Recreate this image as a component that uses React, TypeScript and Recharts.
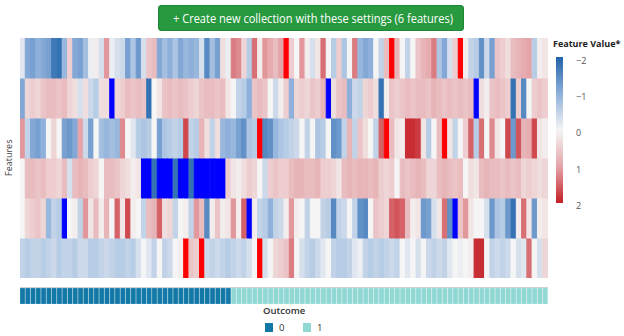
import { BarChart, Bar, Cell, XAxis, YAxis } from "recharts";

// one entry per sample (column), 100 samples
const outcome: number[] = [
  ...Array(40).fill(0),
  ...Array(60).fill(1),
];

// feature values per row, top row first
const feature1 = [
  -0.2, -1.1, -1.2, -1.0, -1.1, -1.2, -1.7, -1.8, -0.9, 0.5,
  -1.1, -1.2, -0.8, -0.1, 0.1, -0.3, 1.1, -0.1, -0.3, -0.4,
  -1.2, -0.7, -1.3, -0.3, 0.6, 0.7, -1.1, -0.8, -1.0, -0.7,
  -1.1, -0.9, -1.0, -0.9, -0.3, -1.5, -0.8, -1.2, 0.3, -0.1,
  1.3, 1.2, 0.4, -0.6, 1.4, 0.1, 1.1, 0.9, 0.7, 1.0,
  2.6, 0.5, 0.0, 1.1, 0.1, -0.3, 0.2, 1.4, 0.0, -0.6,
  0.5, -0.7, 0.0, 1.3, -0.9, -1.1, -1.0, 0.0, -0.5, 0.7,
  2.6, 0.8, 0.0, -0.5, 0.0, 0.6, 0.8, 0.9, 1.3, -0.7,
  -1.1, -0.3, 0.5, 2.6, 0.1, -0.5, -0.6, -1.4, -0.4, -1.2,
  0.6, 0.5, 0.3, 0.7, 0.8, 0.9, 1.0, -0.6, 0.1, 0.2,
];
const feature2 = [
  -1.1, 0.4, 0.5, 0.4, 0.6, 0.7, 0.7, 0.6, 0.7, 0.4,
  0.3, -0.3, 0.3, -0.4, -0.6, 0.3, 0.3, -2.6, 0.4, 0.5,
  0.7, 0.6, 0.7, 0.6, -1.8, 0.0, 0.2, 0.6, 0.7, 0.6,
  0.7, 0.6, 0.5, 0.4, 0.6, 0.7, 0.7, 0.6, 0.7, 0.2,
  0.0, -0.5, -0.6, -1.0, 0.6, 0.7, 0.6, 0.0, -0.4, 0.1,
  0.5, -1.0, 0.4, 0.5, 0.4, 0.6, 0.5, 0.8, -2.6, 0.3,
  0.6, 0.7, -1.0, -0.4, -0.5, 0.4, 0.5, 0.3, -1.8, 0.1,
  0.6, 0.5, 0.6, 0.7, 0.6, 0.7, 0.7, 0.6, 0.8, 0.7,
  0.6, 0.7, 0.6, 0.7, 0.6, 0.7, -2.6, 0.3, 0.1, 0.6,
  0.7, 0.6, 0.5, -1.8, 0.5, -1.5, 0.0, 0.5, 0.6, 0.5,
];
const feature3 = [
  1.1, -0.5, -1.1, -1.2, -1.0, 0.0, 0.4, 0.0, -1.2, -1.3,
  -1.1, 1.0, -0.4, -1.2, 0.0, -0.8, -0.9, -0.8, -0.9, 1.2,
  0.0, -0.2, -0.6, -0.7, -0.6, 0.0, -1.2, -0.7, -0.6, -0.5,
  -0.6, 1.7, -0.5, -0.6, 0.8, 0.3, -0.5, 0.3, -0.9, -1.0,
  -0.9, -1.2, -1.4, -0.7, -0.6, 2.6, -1.5, -1.4, -0.9, -0.7,
  -0.6, -0.5, -0.4, 0.0, -0.5, 0.0, -0.7, -0.6, 0.0, -1.4,
  -1.3, -0.5, 0.8, -0.5, 0.6, 0.3, 0.0, -0.5, 1.5, 2.6,
  0.7, 0.2, 0.1, 1.9, 1.9, 1.8, 0.2, -0.6, 0.0, 0.7,
  2.6, 0.2, -0.5, 0.0, 0.5, 1.5, -0.6, 1.4, 0.0, 1.2,
  0.2, 0.0, 1.7, -1.3, 1.6, 0.8, 0.9, 1.7, 0.2, 0.1,
];
const feature4 = [
  0.0, 0.7, 0.7, 0.6, 0.7, 0.5, 0.5, 0.4, 0.7, -0.3,
  0.7, 0.8, 0.7, 0.5, 0.4, 0.0, 0.7, 0.7, 0.6, 0.4,
  0.3, 0.1, 0.2, -2.6, -2.6, -1.8, -2.6, -2.6, -2.6, -1.8,
  -2.6, -2.6, -1.8, -2.6, -2.6, -2.6, -2.6, -2.6, -2.6, 0.5,
  0.2, 0.1, 0.3, 0.5, 0.4, 0.0, -0.4, 0.5, 0.6, 0.5,
  0.5, 0.7, 0.8, 0.8, 0.7, 0.7, 0.8, 0.5, 0.5, 0.4,
  0.2, 0.7, 0.8, 0.7, 0.8, 0.8, 0.7, 0.8, 0.5, 0.4,
  0.5, 0.0, 0.7, 0.6, 0.7, 0.8, 0.7, 0.4, 0.4, 0.7,
  0.8, 0.7, 0.6, 0.7, 0.0, 0.3, 0.2, 0.7, 0.8, 0.7,
  0.7, 0.6, 0.7, 0.6, 0.7, 0.4, 0.5, 0.4, 0.3, 0.4,
];
const feature5 = [
  0.0, 0.4, 0.5, 0.6, 0.4, -0.9, -0.5, -0.6, -2.6, 0.0,
  0.1, -0.5, 1.1, 0.2, 0.7, 0.1, 0.8, 0.0, 1.5, 0.2,
  1.7, 0.1, 0.0, -0.5, 0.7, 0.8, 1.5, 0.3, 0.4, -0.5,
  0.0, 0.1, -0.5, 1.1, 0.7, -1.5, 0.1, 0.6, 0.1, 0.2,
  1.1, 0.1, 1.5, -2.6, 0.1, -0.5, -0.6, -1.0, -0.5, -0.4,
  0.1, 1.1, 0.1, 0.0, -0.5, 0.0, 0.0, -0.5, -0.6, -1.5,
  -0.5, -0.4, 0.0, -0.5, -1.4, -1.5, 0.0, 0.6, 0.5, 0.4,
  1.5, 1.6, 1.5, 0.7, 0.1, 0.2, -1.3, -1.2, -0.3, 0.2,
  1.4, -1.4, -2.6, 0.6, 1.1, 0.2, 0.0, 0.0, -0.3, -1.3,
  -0.7, -0.6, -1.3, -1.8, 0.1, 1.4, 0.2, -1.3, 0.1, 0.2,
];
const feature6 = [
  -0.5, -0.6, -0.5, -0.5, -0.6, -0.5, -0.4, -0.6, -0.5, -0.5,
  -0.6, -0.4, -0.4, -0.6, -0.6, -0.5, -0.4, -0.5, -0.6, -0.6,
  -0.5, -0.6, -0.3, 0.0, -0.2, -0.5, 0.0, -0.5, -0.4, 0.0,
  0.1, 2.6, 0.6, 0.5, 2.6, -0.4, -0.5, -0.4, -0.5, -0.6,
  -0.5, -0.4, -0.5, -0.3, 0.0, 2.6, -0.3, 0.0, 0.4, 0.5,
  0.6, 1.3, 0.0, -0.3, -0.5, -0.6, -0.4, -0.2, 0.0, -0.5,
  -0.6, -0.6, -0.5, -0.2, -0.1, -0.5, -0.6, -0.5, -0.6, -0.5,
  -0.4, -0.5, 0.0, -0.2, 0.0, -0.3, 0.0, -0.4, -0.5, -0.4,
  -0.5, -0.2, 0.0, -0.1, 0.0, 0.1, 1.9, 1.9, 0.0, -0.5,
  -0.4, -0.5, -0.4, 0.0, -0.3, -0.2, 1.4, 0.0, -0.3, 0.4,
];

const features = [feature1, feature2, feature3, feature4, feature5, feature6];
const legendTicks = ["-2", "-1", "0", "1", "2"];
const outcomeLabels = ["0", "1"];

const outcomeColors = ["#1278a8", "#90d8d4"];

const stops: [number, number[]][] = [
  [-2, [31, 98, 170]],
  [-1, [142, 176, 218]],
  [0, [245, 245, 245]],
  [1, [228, 164, 168]],
  [2, [196, 32, 38]],
];

const valueColor = (v: number) => {
  if (v < -2.2) return "#0000ff";
  if (v > 2.2) return "#ff0000";
  const c = Math.max(-2, Math.min(2, v));
  for (let i = 0; i < stops.length - 1; i++) {
    const [a, ca] = stops[i];
    const [b, cb] = stops[i + 1];
    if (c >= a && c <= b) {
      const t = (c - a) / (b - a);
      const rgb = ca.map((x, k) => Math.round(x + (cb[k] - x) * t));
      return `rgb(${rgb.join(",")})`;
    }
  }
  return "#f5f5f5";
};

const tableData = outcome.map((o, i) => ({ col: i, outcome: o }));

const font = "'Open Sans', 'Noto Sans', sans-serif";

export default function App() {
  // bottom row stacks first
  const order = [5, 4, 3, 2, 1, 0];
  return (
    <div style={{ position: "relative", width: 624, height: 336, background: "#fff", fontFamily: font }}>
      <style>{`body{margin:0}`}</style>

      <div
        style={{
          position: "absolute",
          left: 158,
          top: 5,
          width: 306,
          height: 26,
          background: "#27993f",
          border: "1px solid #1e8535",
          borderRadius: 3,
          boxSizing: "border-box",
        }}
      >
        <svg width={304} height={24} style={{ display: "block", overflow: "visible" }}>
          <text x={14} y={17} fill="#fff" fontSize={13.5} textLength={280} lengthAdjust="spacingAndGlyphs" fontFamily={font}>
            + Create new collection with these settings (6 features)
          </text>
        </svg>
      </div>

      <div
        style={{
          position: "absolute",
          left: 2,
          top: 158,
          transform: "rotate(-90deg)",
          transformOrigin: "left top",
          fontSize: 9,
          color: "#444",
        }}
      >
        <span style={{ position: "absolute", left: -18, top: 0, whiteSpace: "nowrap" }}>Features</span>
      </div>

      <div style={{ position: "absolute", left: 20, top: 38 }}>
        <BarChart width={528} height={240} data={tableData} margin={{ top: 0, right: 0, bottom: 0, left: 0 }} barCategoryGap={0} barGap={0}>
          <XAxis dataKey="col" hide />
          <YAxis hide domain={[0, 6]} />
          {order.map((r) => (
            <Bar key={r} dataKey={() => 1} stackId="h" isAnimationActive={false}>
              {features[r].map((v, i) => (
                <Cell key={i} fill={valueColor(v)} stroke={valueColor(v)} strokeWidth={1} />
              ))}
            </Bar>
          ))}
        </BarChart>
      </div>

      <div style={{ position: "absolute", left: 20, top: 287, borderTop: "1px solid #cfcfcf" }}>
        <BarChart width={528} height={16} data={tableData} margin={{ top: 0, right: 0, bottom: 0, left: 0 }} barCategoryGap={0} barGap={0}>
          <XAxis dataKey="col" hide />
          <YAxis hide domain={[0, 1]} />
          <Bar dataKey={() => 1} isAnimationActive={false}>
            {tableData.map((d, i) => (
              <Cell key={i} fill={outcomeColors[d.outcome]} stroke="#ffffff" strokeOpacity={0.3} strokeWidth={0.6} />
            ))}
          </Bar>
        </BarChart>
      </div>

      <div style={{ position: "absolute", left: 263, top: 304, fontSize: 9.5, fontWeight: 600, color: "#333" }}>Outcome</div>
      {outcomeLabels.map((l, i) => (
        <div key={l} style={{ position: "absolute", left: 265 + i * 38, top: 321, display: "flex", alignItems: "center", fontSize: 9.5, color: "#333" }}>
          <span style={{ display: "inline-block", width: 8, height: 9, background: outcomeColors[i], marginRight: 6 }} />
          {l}
        </div>
      ))}

      <div style={{ position: "absolute", left: 553, top: 37, fontSize: 9, fontWeight: 700, color: "#222", whiteSpace: "nowrap" }}>Feature Value*</div>
      <div
        style={{
          position: "absolute",
          left: 556,
          top: 57,
          width: 7,
          height: 146,
          background: `linear-gradient(to bottom, ${stops.map(([v], i) => `${valueColor(v)} ${(i / (stops.length - 1)) * 100}%`).join(", ")})`,
        }}
      />
      {legendTicks.map((t, i) => (
        <div key={t} style={{ position: "absolute", left: 576, top: 54 + i * 36.2, fontSize: 9, color: "#555" }}>
          {t.replace("-", "\u2212")}
        </div>
      ))}
    </div>
  );
}
